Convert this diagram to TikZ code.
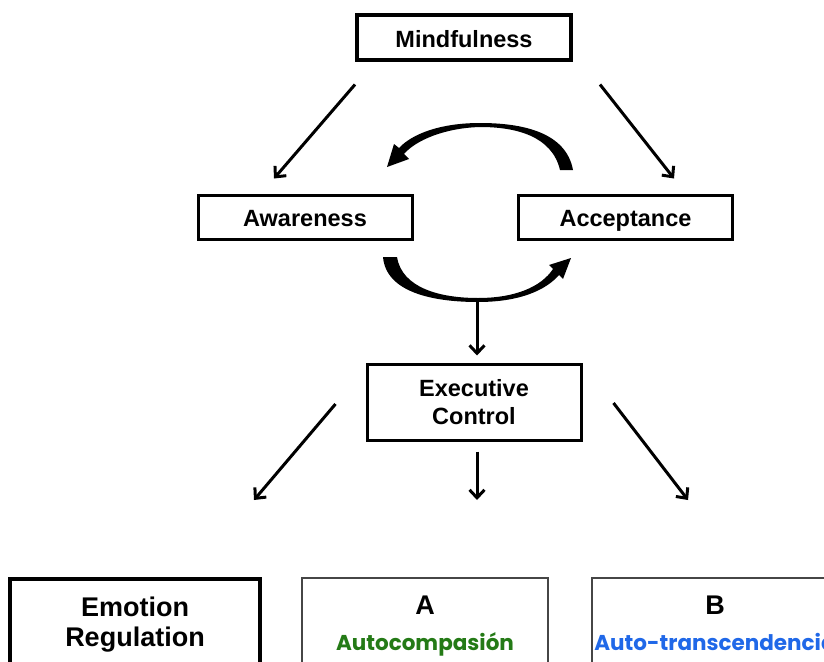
\documentclass[tikz,border=0pt]{standalone}
\usepackage{fontspec}
\setmainfont{Liberation Sans}
\newfontfamily\gothic{Poppins}
\usetikzlibrary{arrows.meta,calc}
\definecolor{compgreen}{RGB}{36,122,22}
\definecolor{transblue}{RGB}{32,104,232}
\definecolor{boxgrey}{RGB}{70,70,70}

\begin{document}
\begin{tikzpicture}[x=1pt,y=-1pt]
	\tikzstyle{every node}+=[inner sep=0pt]
	\tikzstyle{box}=[draw, line width=3pt, minimum width=214pt, align=center, font=\fontsize{23.5}{28}\selectfont\bfseries]
	\tikzstyle{oneline}=[text height=19pt, text depth=0pt]
	\tikzstyle{outbox}=[draw, line width=3.8pt, anchor=north, inner ysep=18pt, align=center, font=\fontsize{27}{30}\selectfont\bfseries]
	\tikzstyle{arr}=[line width=3pt, -{Straight Barb[length=8pt,width=15pt,line width=3pt]}]
	\useasboundingbox (0,0) rectangle (824,661);
	\clip (0,0) rectangle (824,661);
	% boxes
	\node [box, oneline, line width=4pt, minimum height=45pt, text height=20pt] (mind) at (464,38) {Mindfulness};
	\node [box, oneline, minimum height=44pt] (aware) at (305,217) {Awareness};
	\node [box, oneline, minimum height=44pt] (accept) at (625.5,217) {Acceptance};
	\node [box, minimum height=76pt] (exec) at (474,402) {Executive\\Control};
	\node [outbox, minimum width=250pt] (emo) at (135,577) {Emotion\\Regulation};
	\node [outbox, draw=boxgrey, line width=2pt, minimum width=246pt] (compa) at (425,577)
		{A\\[6pt]\textcolor{compgreen}{\gothic\fontsize{21.5}{21}\selectfont Autocompasión}};
	\node [outbox, draw=boxgrey, line width=2pt, minimum width=246pt] (trans) at (715,577)
		{B\\[6pt]\textcolor{transblue}{\gothic\fontsize{21.5}{21}\selectfont Auto-transcendencia}};
	% free ends
	\coordinate (loopbot) at (477,299);
	\coordinate (toemo) at (254,500);
	\coordinate (tocompa) at (477,500);
	\coordinate (totrans) at (688,500);
	% straight arrows
	\draw [arr] ($(mind.south west)+(0,22)$) -- ($(aware.north)+(-31,-15)$);
	\draw [arr] ($(mind.south east)+(27,22)$) -- ($(accept.north)+(48.5,-15)$);
	\draw [arr] (loopbot) -- ($(exec.north)+(3,-7)$);
	\draw [arr] ($(exec.west)+(-30,2)$) -- (toemo);
	\draw [arr] ($(exec.south)+(3,10)$) -- (tocompa);
	\draw [arr] ($(exec.east)+(31,1)$) -- (totrans);
	% curved arrows between Awareness and Acceptance
	\fill [black] (573,170) .. controls (566,132) and (522,123) .. (480,123)
		.. controls (440,123) and (412,134) .. (399,148) -- (394,144) -- (387,167) -- (409,159) -- (404,154)
		.. controls (416,140) and (445,128) .. (480,127)
		.. controls (516,127) and (552,136) .. (560,170) -- cycle;
	\fill [black] (383,257) .. controls (386,292) and (432,302) .. (478,302)
		.. controls (520,302) and (546,290) .. (559,275) -- (563,279) -- (571,258) -- (549,265) -- (553,269)
		.. controls (541,287) and (515,298) .. (478,298)
		.. controls (440,298) and (402,288) .. (397,257) -- cycle;
\end{tikzpicture}
\end{document}
